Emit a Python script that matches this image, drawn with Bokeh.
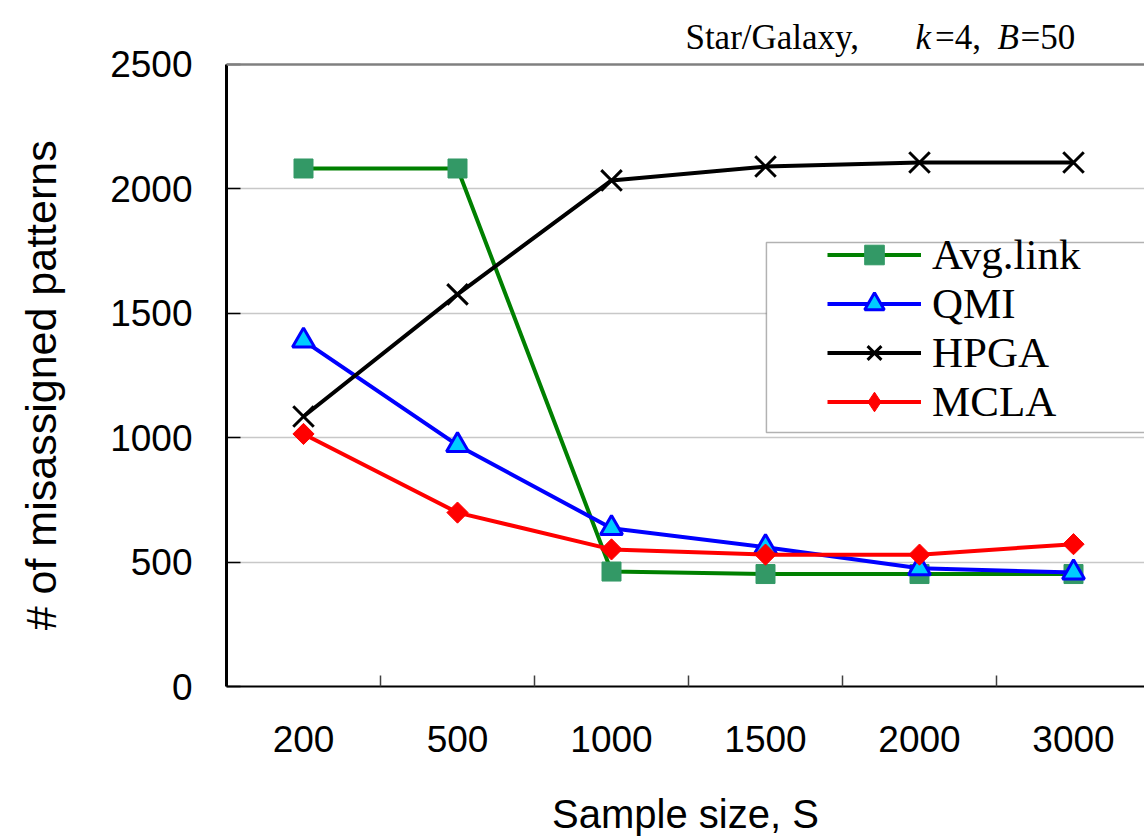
from bokeh.plotting import figure
from bokeh.models import (Range1d, FixedTicker, Legend, LegendItem, BoxAnnotation, Span)
from bokeh.core.properties import value
from bokeh.embed import file_html
from bokeh.resources import INLINE
import math

# ---- data ----
categories = ["200", "500", "1000", "1500", "2000", "3000"]
avg_link = [2082, 2082, 462, 452, 452, 452]
qmi = [1390, 970, 636, 560, 475, 458]
hpga = [1085, 1576, 2034, 2090, 2106, 2106]
mcla = [1015, 699, 551, 530, 530, 572]
y_ticks = [0, 500, 1000, 1500, 2000, 2500]
series_names = ["Avg.link", "QMI", "HPGA", "MCLA"]
title_parts = ["Star/Galaxy,", "k", "=4,", "B", "=50"]
title_styles = ["normal", "italic", "normal", "italic", "normal"]
x_label = "Sample size, S"
y_label = "# of misassigned patterns"

xs = list(range(len(categories)))
y_max = y_ticks[-1]

SANS = "Liberation Sans"
SERIF = "Liberation Serif"

# frame runs from the top of the canvas; the value axis is bounded to 0..2500,
# and the band above 2500 carries the title text
p = figure(width=1144, height=838, output_backend="svg", toolbar_location=None,
           x_range=Range1d(-0.5, 5.461), y_range=Range1d(0, 2757.2),
           min_border_left=226, min_border_right=0, min_border_top=0,
           min_border_bottom=152)
p.background_fill_color = "white"
p.border_fill_color = "white"
p.outline_line_color = None

p.xaxis.ticker = FixedTicker(ticks=xs, minor_ticks=[i + 0.5 for i in xs[:-1]])
p.xaxis.major_label_overrides = {i: c for i, c in zip(xs, categories)}
p.xaxis.major_tick_line_color = None
p.xaxis.minor_tick_in = 11
p.xaxis.minor_tick_out = 0
p.xaxis.minor_tick_line_color = "#404040"
p.xaxis.minor_tick_line_width = 1.5
p.xaxis.axis_line_color = "black"
p.xaxis.axis_line_width = 2
p.xaxis.major_label_text_font = SANS
p.xaxis.major_label_text_font_size = "37px"
p.xaxis.major_label_text_color = "black"
p.xaxis.major_label_standoff = 33
p.xaxis.axis_label = x_label
p.xaxis.axis_label_text_font = SANS
p.xaxis.axis_label_text_font_size = "40px"
p.xaxis.axis_label_text_font_style = "normal"
p.xaxis.axis_label_text_color = "black"
p.xaxis.axis_label_standoff = 37
p.xgrid.visible = False

p.yaxis.ticker = FixedTicker(ticks=y_ticks)
p.yaxis.bounds = (0, y_max)
p.yaxis.minor_tick_line_color = None
p.yaxis.major_tick_in = 14
p.yaxis.major_tick_out = 0
p.yaxis.major_tick_line_color = "black"
p.yaxis.major_tick_line_width = 1.5
p.yaxis.axis_line_color = "black"
p.yaxis.axis_line_width = 3
p.yaxis.major_label_text_font = SANS
p.yaxis.major_label_text_font_size = "37px"
p.yaxis.major_label_text_color = "black"
p.yaxis.major_label_standoff = 34
# trailing no-break spaces move the centred label down to the 0..2500 span
p.yaxis.axis_label = y_label + "\u00a0" * 7
p.yaxis.axis_label_text_font = SANS
p.yaxis.axis_label_text_font_size = "43px"
p.yaxis.axis_label_text_font_style = "normal"
p.yaxis.axis_label_text_color = "black"
p.yaxis.axis_label_standoff = 42
p.ygrid.ticker = FixedTicker(ticks=y_ticks[:-1])
p.ygrid.grid_line_color = "#c8c8c8"
p.ygrid.grid_line_width = 1.5

# top border of the plot area
p.add_layout(Span(location=y_max, dimension="width", line_color="#808080",
                  line_width=2.5))

box = BoxAnnotation(left=3.006, right=6.5, bottom=1021, top=1785,
                    fill_color="white", fill_alpha=1.0,
                    line_color="black", line_width=1.5, level="overlay")

r_avg_l = p.line(xs, avg_link, line_color="#008000", line_width=4)
r_avg_m = p.scatter(xs, avg_link, marker="square", size=19, fill_color="#339966",
                    line_color="#339966", line_width=1)
r_qmi_l = p.line(xs, qmi, line_color="#0000ff", line_width=4)
r_qmi_m = p.scatter(xs, qmi, marker="triangle", size=22, fill_color="#00ccff",
                    line_color="#0000ff", line_width=3)
r_hp_l = p.line(xs, hpga, line_color="black", line_width=4)
r_hp_m = p.scatter(xs, hpga, marker="x", size=29, line_color="black", line_width=3)
r_mc_l = p.line(xs, mcla, line_color="#ff0000", line_width=4)
r_mc_m = p.scatter(xs, mcla, marker="square", angle=math.pi / 4, size=15,
                   fill_color="#ff0000", line_color="#ff0000", line_width=1)
# legend key for MCLA (a diamond; its one point is NaN so nothing is plotted)
r_mc_key = p.scatter(x=[float("nan")], y=[float("nan")], marker="diamond", size=22,
                     fill_color="#ff0000", line_color="#ff0000", line_width=1)

p.add_layout(box)

legend = Legend(items=[
    LegendItem(label=series_names[0], renderers=[r_avg_l, r_avg_m]),
    LegendItem(label=series_names[1], renderers=[r_qmi_l, r_qmi_m]),
    LegendItem(label=series_names[2], renderers=[r_hp_l, r_hp_m]),
    LegendItem(label=series_names[3], renderers=[r_mc_l, r_mc_key]),
], location=(601, 260), padding=0, margin=0, spacing=-6,
    label_height=49, glyph_height=49, glyph_width=94, label_standoff=11,
    border_line_color=None, background_fill_alpha=0.0,
    label_text_font=SERIF, label_text_font_size="43px", label_text_color="black")
p.add_layout(legend)

# title text (drawn in the band above the 2500 line)
t_x = [2.48, 3.974, 4.1, 4.506, 4.656]
t_y = 2608
for txt, xx, st in zip(title_parts, t_x, title_styles):
    p.text(x=[xx], y=[t_y], text=[txt], text_font=value(SERIF),
           text_font_size="35px", text_font_style=st, text_color="black",
           text_baseline="alphabetic", text_align="left")

open("out.html", "w").write(file_html(p, INLINE))
